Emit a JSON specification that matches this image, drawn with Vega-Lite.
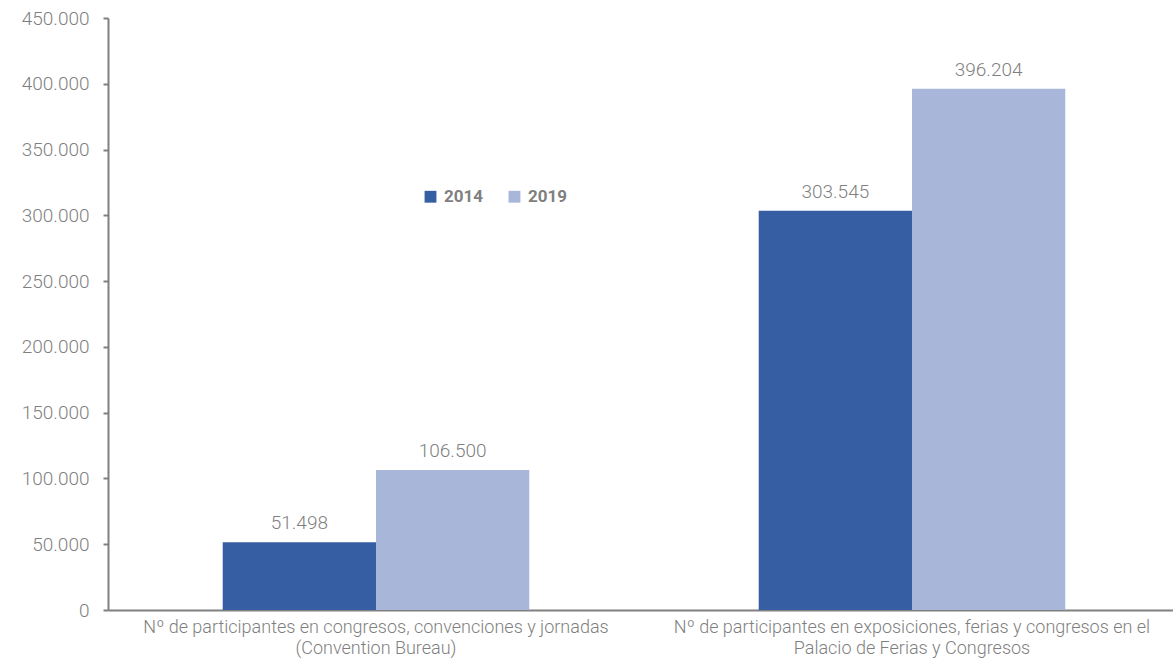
{
  "$schema": "https://vega.github.io/schema/vega-lite/v6.json",
  "width": 1072,
  "height": 592,
  "autosize": {"type": "none"},
  "padding": {"left": 108, "top": 18, "right": 0, "bottom": 55},
  "background": "white",
  "config": {
    "view": {"stroke": null},
    "font": "Roboto",
    "locale": {"number": {"decimal": ",", "thousands": ".", "grouping": [3], "currency": ["", " €"]}}
  },
  "data": {
    "values": [
      {"categoria": "Nº de participantes en congresos, convenciones y jornadas|(Convention Bureau)", "anio": "2014", "valor": 51498},
      {"categoria": "Nº de participantes en congresos, convenciones y jornadas|(Convention Bureau)", "anio": "2019", "valor": 106500},
      {"categoria": "Nº de participantes en exposiciones, ferias y congresos en el|Palacio de Ferias y Congresos", "anio": "2014", "valor": 303545},
      {"categoria": "Nº de participantes en exposiciones, ferias y congresos en el|Palacio de Ferias y Congresos", "anio": "2019", "valor": 396204}
    ]
  },
  "encoding": {
    "x": {
      "field": "categoria", "type": "nominal", "sort": null,
      "scale": {"paddingInner": 0.428, "paddingOuter": 0.214},
      "axis": {
        "title": null, "labelAngle": 0, "ticks": false,
        "labelExpr": "split(datum.label, '|')",
        "labelFont": "Roboto", "labelFontWeight": 300, "labelFontSize": 18, "labelColor": "#7f7f7f",
        "labelLineHeight": 21, "labelPadding": 8, "labelLimit": 0,
        "domainColor": "#808080", "domainWidth": 2
      }
    },
    "xOffset": {"field": "anio", "type": "nominal", "scale": {"paddingInner": 0, "paddingOuter": 0}},
    "y": {
      "field": "valor", "type": "quantitative",
      "scale": {"domain": [0, 450000], "nice": false},
      "axis": {
        "title": null, "grid": false, "values": [0, 50000, 100000, 150000, 200000, 250000, 300000, 350000, 400000, 450000],
        "format": ",.0f",
        "labelFont": "Roboto", "labelFontWeight": 300, "labelFontSize": 19, "labelColor": "#7f7f7f", "labelPadding": 14,
        "domainColor": "#808080", "domainWidth": 2, "tickColor": "#808080", "tickSize": 5, "tickWidth": 2
      }
    }
  },
  "layer": [
    {
      "mark": {"type": "bar"},
      "encoding": {
        "color": {
          "field": "anio", "type": "nominal",
          "scale": {"domain": ["2014", "2019"], "range": ["#365EA3", "#A8B6DA"]},
          "legend": {
            "title": null, "orient": "none", "legendX": 314, "legendY": 170, "direction": "horizontal",
            "symbolType": "square", "symbolSize": 140, "symbolStrokeWidth": 0,
            "labelFont": "Roboto", "labelFontWeight": "bold", "labelFontSize": 17, "labelColor": "#7f7f7f",
            "labelOffset": 5, "columnPadding": 22
          }
        }
      }
    },
    {
      "mark": {"type": "text", "baseline": "bottom", "dy": -9, "font": "Roboto", "fontWeight": 300, "fontSize": 19, "color": "#7f7f7f"},
      "encoding": {
        "text": {"field": "valor", "type": "quantitative", "format": ",.0f"}
      }
    }
  ]
}
